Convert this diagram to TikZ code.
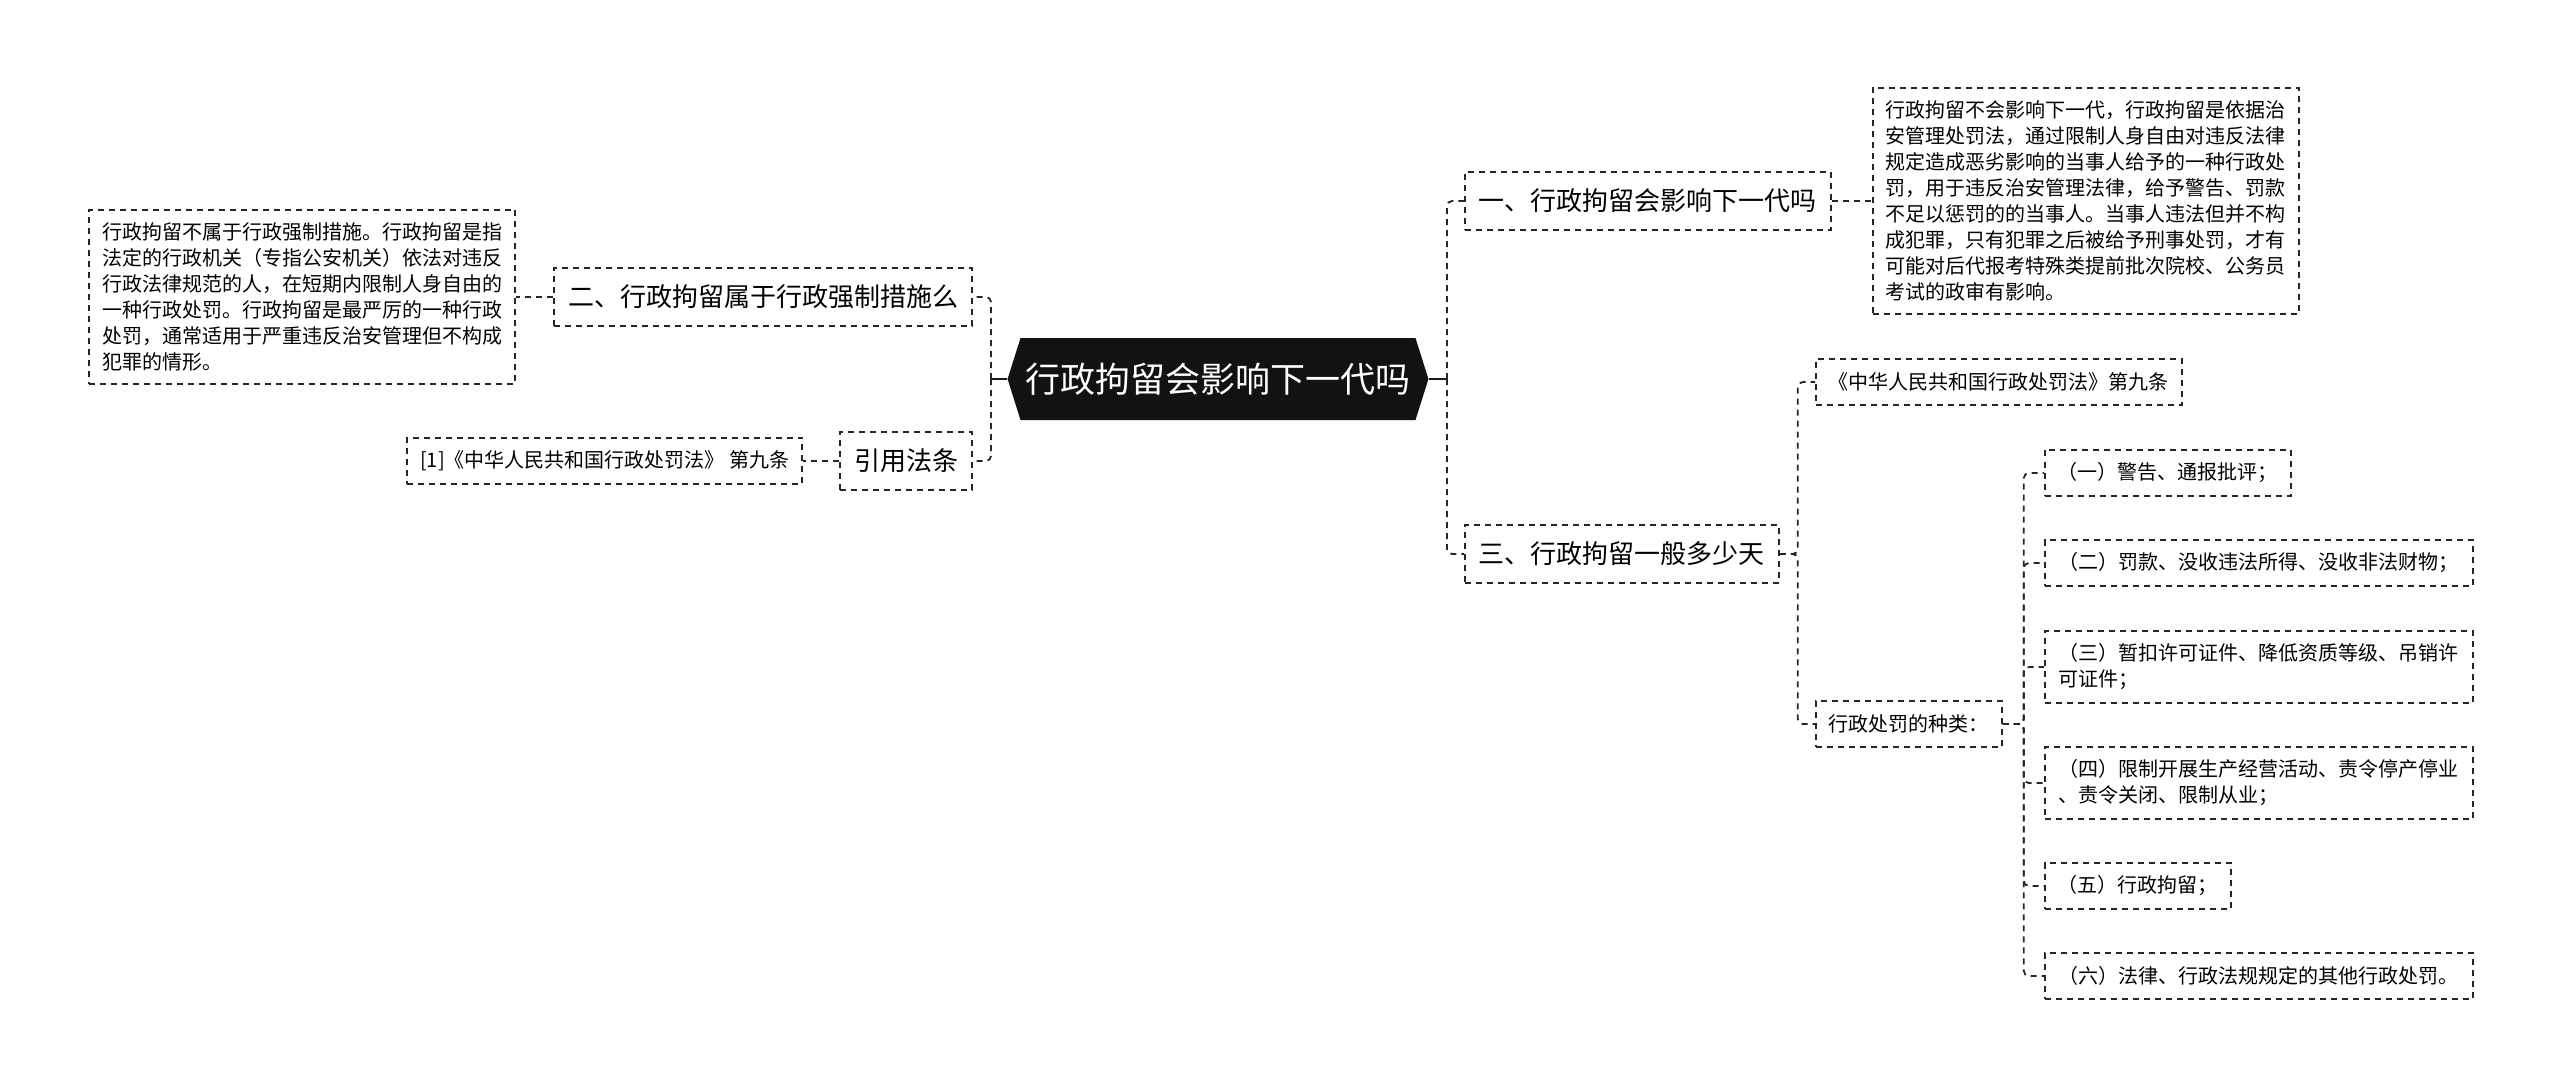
\documentclass[tikz,border=0pt]{standalone}
\usepackage{fontspec}
\setmainfont{Noto Sans CJK SC}
\usetikzlibrary{positioning, shapes.symbols}

\begin{document}
\begin{tikzpicture}[x=1pt, y=-1pt,
  root/.style={shape=signal, signal to=east and west, signal pointer angle=145, fill=black!93, text=white, font=\fontsize{35}{42}\selectfont, minimum height=82pt, inner xsep=5pt},
  topic/.style={draw=black!85, line width=1.8pt, dash pattern=on 6pt off 5pt, font=\fontsize{26}{32}\selectfont, inner xsep=14pt, minimum height=58pt},
  leaf/.style={draw=black!85, line width=1.8pt, dash pattern=on 6pt off 5pt, font=\fontsize{20}{26}\selectfont, inner xsep=13pt, inner ysep=13pt, minimum height=46pt, align=left},
  wide/.style={leaf, minimum width=428pt},
  link/.style={draw=black!85, line width=1.8pt, dash pattern=on 6pt off 5pt, rounded corners=5pt},
  stub/.style={draw=black!90, line width=1.8pt}
]
\useasboundingbox (0,0) rectangle (2560,1088);

% Center
\node[root] (root) at (1218, 379) {行政拘留会影响下一代吗};
\coordinate (rjoin) at (1447, 379);
\coordinate (ljoin) at (991, 379);

% Right side
\node[topic, anchor=west] (q1) at (1464, 201) {一、行政拘留会影响下一代吗};
\node[leaf, right=40pt of q1] (para1) {行政拘留不会影响下一代，行政拘留是依据治\\安管理处罚法，通过限制人身自由对违反法律\\规定造成恶劣影响的当事人给予的一种行政处\\罚，用于违反治安管理法律，给予警告、罚款\\不足以惩罚的的当事人。当事人违法但并不构\\成犯罪，只有犯罪之后被给予刑事处罚，才有\\可能对后代报考特殊类提前批次院校、公务员\\考试的政审有影响。};

\node[topic, anchor=west] (q3) at (1464, 554) {三、行政拘留一般多少天};
\node[leaf, anchor=west] (law) at (1815, 382) {《中华人民共和国行政处罚法》第九条};
\node[leaf, anchor=west] (kinds) at (1815, 724) {行政处罚的种类：};

\node[leaf, anchor=west] (k1) at (2044, 473) {（一）警告、通报批评；};
\node[wide, anchor=west] (k2) at (2044, 563) {（二）罚款、没收违法所得、没收非法财物；};
\node[wide, anchor=west] (k3) at (2044, 667) {（三）暂扣许可证件、降低资质等级、吊销许\\可证件；};
\node[wide, anchor=west] (k4) at (2044, 783) {（四）限制开展生产经营活动、责令停产停业\\、责令关闭、限制从业；};
\node[leaf, anchor=west] (k5) at (2044, 886) {（五）行政拘留；};
\node[wide, anchor=west] (k6) at (2044, 976) {（六）法律、行政法规规定的其他行政处罚。};

% Left side
\node[topic, anchor=east] (q2) at (973, 297) {二、行政拘留属于行政强制措施么};
\node[leaf, left=37pt of q2] (para2) {行政拘留不属于行政强制措施。行政拘留是指\\法定的行政机关（专指公安机关）依法对违反\\行政法律规范的人，在短期内限制人身自由的\\一种行政处罚。行政拘留是最严厉的一种行政\\处罚，通常适用于严重违反治安管理但不构成\\犯罪的情形。};

\node[topic, anchor=east] (ref) at (973, 461) {引用法条};
\node[leaf, left=36pt of ref] (ref1) {[1]《中华人民共和国行政处罚法》 第九条};

% Connectors
\draw[stub] (root.east) -- (rjoin);
\draw[stub] (root.west) -- (ljoin);
\draw[link] (rjoin) |- (q1.west);
\draw[link] (rjoin) |- (q3.west);
\draw[link] (ljoin) |- (q2.east);
\draw[link] (ljoin) |- (ref.east);

\draw[link] (q1.east) -- (para1.west);
\draw[link] (q2.west) -- (para2.east);
\draw[link] (ref.west) -- (ref1.east);

\draw[link] (q3.east) -- ++(18,0) |- (law.west);
\draw[link] (q3.east) -- ++(18,0) |- (kinds.west);

\draw[link] (kinds.east) -- ++(21,0) |- (k1.west);
\draw[link] (kinds.east) -- ++(21,0) |- (k2.west);
\draw[link] (kinds.east) -- ++(21,0) |- (k3.west);
\draw[link] (kinds.east) -- ++(21,0) |- (k4.west);
\draw[link] (kinds.east) -- ++(21,0) |- (k5.west);
\draw[link] (kinds.east) -- ++(21,0) |- (k6.west);

\end{tikzpicture}
\end{document}
